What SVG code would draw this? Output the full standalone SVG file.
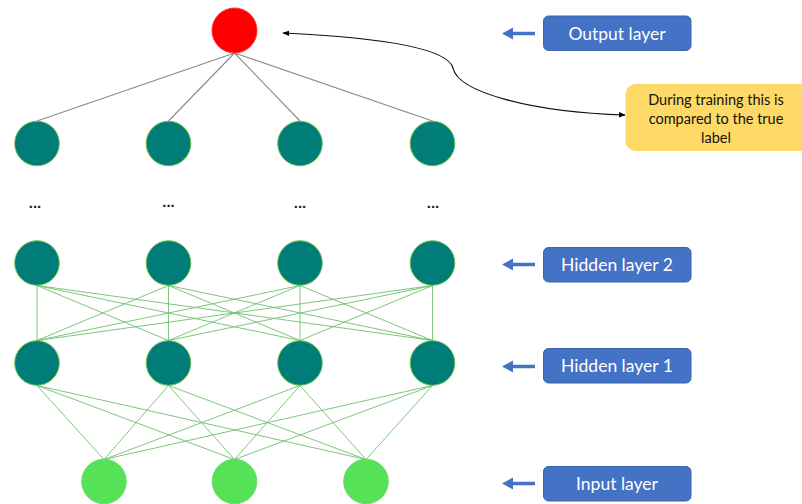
<svg xmlns="http://www.w3.org/2000/svg" width="802" height="504" viewBox="0 0 802 504">
<style>
.teal{fill:#007c79;stroke:#6cc24a;stroke-width:1}
.red{fill:#ff0000;stroke:#ff3333;stroke-width:1}
.inp{fill:#56e256;stroke:#6cd86c;stroke-width:1}
.gl{stroke:#8a8a8a;stroke-width:1.1;fill:none}
.gn{stroke:#6fc06f;stroke-width:1;fill:none;opacity:0.9}
.box{fill:#4472c4;stroke:#3a64b0;stroke-width:1}
.lbl{font-family:Lato,"Liberation Sans",sans-serif;font-size:17.5px;fill:#ffffff;text-anchor:middle}
.note{font-family:Lato,"Liberation Sans",sans-serif;font-size:14.5px;fill:#111111;text-anchor:middle}
.dots{font-family:"Liberation Sans",sans-serif;font-size:15px;font-weight:bold;fill:#222222;text-anchor:middle}
.barr{stroke:#4472c4;stroke-width:3.5;fill:none}
.bhead{fill:#4472c4}
</style>
<defs>
<marker id="ah" viewBox="0 0 10 10" refX="9" refY="5" markerWidth="7" markerHeight="7" orient="auto-start-reverse" markerUnits="userSpaceOnUse">
<path d="M0,1 L10,5 L0,9 z" fill="#000"/>
</marker>
</defs>
<g id="connectors">
<g id="out-lines">
<line class="gl" x1="234.5" y1="53" x2="37" y2="121"/>
<line class="gl" x1="234.5" y1="53" x2="168.5" y2="121"/>
<line class="gl" x1="234.5" y1="53" x2="300" y2="121"/>
<line class="gl" x1="234.5" y1="53" x2="432.5" y2="121"/>
</g>
<g id="h2-h1">
<line class="gn" x1="37" y1="285.5" x2="37" y2="340.5"/>
<line class="gn" x1="37" y1="285.5" x2="168.5" y2="340.5"/>
<line class="gn" x1="37" y1="285.5" x2="300" y2="340.5"/>
<line class="gn" x1="37" y1="285.5" x2="432.5" y2="340.5"/>
<line class="gn" x1="168.5" y1="285.5" x2="37" y2="340.5"/>
<line class="gn" x1="168.5" y1="285.5" x2="168.5" y2="340.5"/>
<line class="gn" x1="168.5" y1="285.5" x2="300" y2="340.5"/>
<line class="gn" x1="168.5" y1="285.5" x2="432.5" y2="340.5"/>
<line class="gn" x1="300" y1="285.5" x2="37" y2="340.5"/>
<line class="gn" x1="300" y1="285.5" x2="168.5" y2="340.5"/>
<line class="gn" x1="300" y1="285.5" x2="300" y2="340.5"/>
<line class="gn" x1="300" y1="285.5" x2="432.5" y2="340.5"/>
<line class="gn" x1="432.5" y1="285.5" x2="37" y2="340.5"/>
<line class="gn" x1="432.5" y1="285.5" x2="168.5" y2="340.5"/>
<line class="gn" x1="432.5" y1="285.5" x2="300" y2="340.5"/>
<line class="gn" x1="432.5" y1="285.5" x2="432.5" y2="340.5"/>
</g>
<g id="h1-in">
<line class="gn" x1="37" y1="385.5" x2="104" y2="459.5"/>
<line class="gn" x1="37" y1="385.5" x2="234.5" y2="459.5"/>
<line class="gn" x1="37" y1="385.5" x2="366" y2="459.5"/>
<line class="gn" x1="168.5" y1="385.5" x2="104" y2="459.5"/>
<line class="gn" x1="168.5" y1="385.5" x2="234.5" y2="459.5"/>
<line class="gn" x1="168.5" y1="385.5" x2="366" y2="459.5"/>
<line class="gn" x1="300" y1="385.5" x2="104" y2="459.5"/>
<line class="gn" x1="300" y1="385.5" x2="234.5" y2="459.5"/>
<line class="gn" x1="300" y1="385.5" x2="366" y2="459.5"/>
<line class="gn" x1="432.5" y1="385.5" x2="104" y2="459.5"/>
<line class="gn" x1="432.5" y1="385.5" x2="234.5" y2="459.5"/>
<line class="gn" x1="432.5" y1="385.5" x2="366" y2="459.5"/>
</g>
<path id="note-arrow" d="M283,33 C390,38 448,50 453,68 C458,92 530,112 625,115" fill="none" stroke="#111" stroke-width="1.2" marker-start="url(#ah)" marker-end="url(#ah)"/>
<g id="label-arrows">
<line class="barr" x1="535" y1="33.5" x2="510" y2="33.5"/>
<path class="bhead" d="M502,33.5 L513,27.5 L513,39.5 z"/>
<line class="barr" x1="535" y1="264.5" x2="510" y2="264.5"/>
<path class="bhead" d="M502,264.5 L513,258.5 L513,270.5 z"/>
<line class="barr" x1="535" y1="366.5" x2="510" y2="366.5"/>
<path class="bhead" d="M502,366.5 L513,360.5 L513,372.5 z"/>
<line class="barr" x1="535" y1="483.5" x2="510" y2="483.5"/>
<path class="bhead" d="M502,483.5 L513,477.5 L513,489.5 z"/>
</g>
</g>
<g id="output-node"><circle class="red" cx="234.5" cy="30.5" r="22.5"/></g>
<g id="top-hidden">
<circle id="t1" class="teal" cx="37" cy="143.5" r="22.3"/>
<circle id="t2" class="teal" cx="168.5" cy="143.5" r="22.3"/>
<circle id="t3" class="teal" cx="300" cy="143.5" r="22.3"/>
<circle id="t4" class="teal" cx="432.5" cy="143.5" r="22.3"/>
</g>
<g id="ellipses">
<text class="dots" x="35" y="208">...</text>
<text class="dots" x="168.5" y="207">...</text>
<text class="dots" x="300" y="208">...</text>
<text class="dots" x="433" y="208">...</text>
</g>
<g id="hidden2">
<circle id="h2a" class="teal" cx="37" cy="263" r="22.3"/>
<circle id="h2b" class="teal" cx="168.5" cy="263" r="22.3"/>
<circle id="h2c" class="teal" cx="300" cy="263" r="22.3"/>
<circle id="h2d" class="teal" cx="432.5" cy="263" r="22.3"/>
</g>
<g id="hidden1">
<circle id="h1a" class="teal" cx="37" cy="363" r="22.3"/>
<circle id="h1b" class="teal" cx="168.5" cy="363" r="22.3"/>
<circle id="h1c" class="teal" cx="300" cy="363" r="22.3"/>
<circle id="h1d" class="teal" cx="432.5" cy="363" r="22.3"/>
</g>
<g id="input">
<circle id="i1" class="inp" cx="104" cy="481.5" r="22.3"/>
<circle id="i2" class="inp" cx="234.5" cy="481.5" r="22.3"/>
<circle id="i3" class="inp" cx="366" cy="481.5" r="22.3"/>
</g>
<g id="lbl-output"><rect class="box" x="543.5" y="16" width="147.5" height="34.5" rx="5"/><text class="lbl" x="617" y="39.5">Output layer</text></g>
<g id="lbl-hidden2"><rect class="box" x="543.5" y="247.5" width="147.5" height="34.5" rx="5"/><text class="lbl" x="617" y="271">Hidden layer 2</text></g>
<g id="lbl-hidden1"><rect class="box" x="543.5" y="348.5" width="147.5" height="34.5" rx="5"/><text class="lbl" x="617" y="372">Hidden layer 1</text></g>
<g id="lbl-input"><rect class="box" x="543.5" y="466.5" width="147.5" height="34.5" rx="5"/><text class="lbl" x="617" y="490">Input layer</text></g>
<g id="note">
<rect x="625.5" y="84" width="186" height="67" rx="10" fill="#ffd966"/>
<text class="note" x="716" y="105">During training this is</text>
<text class="note" x="716" y="124">compared to the true</text>
<text class="note" x="716" y="143">label</text>
</g>
</svg>
